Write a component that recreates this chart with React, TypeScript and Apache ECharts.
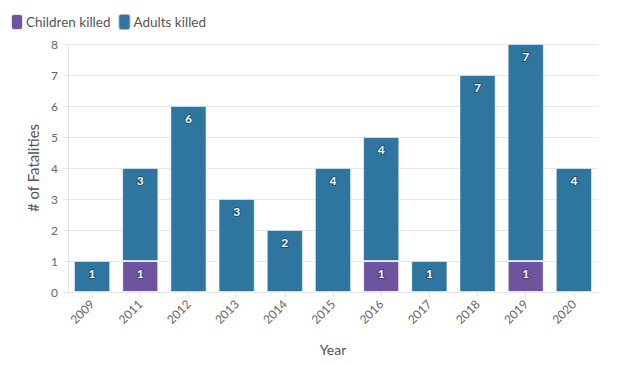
import React, { useEffect, useRef } from "react";
import * as echarts from "echarts";

const years = ["2009", "2011", "2012", "2013", "2014", "2015", "2016", "2017", "2018", "2019", "2020"];
const childrenKilled = [0, 1, 0, 0, 0, 0, 1, 0, 0, 1, 0];
const adultsKilled = [1, 3, 6, 3, 2, 4, 4, 1, 7, 7, 4];
const yTicks = { min: 0, max: 8, interval: 1 };

const FONT = "Lato, 'Open Sans', sans-serif";

export default function App() {
  const ref = useRef<HTMLDivElement>(null);
  useEffect(() => {
    if (!ref.current) return;
    const chart = echarts.init(ref.current, null, { renderer: "svg" });
    const label = {
      show: true,
      position: "insideTop",
      distance: 6,
      color: "#fff",
      fontWeight: "bold",
      fontSize: 12,
      fontFamily: FONT,
      textBorderColor: "rgba(20,50,80,0.55)",
      textBorderWidth: 2,
      formatter: (p: any) => (p.value > 0 ? String(p.value) : ""),
    };
    chart.setOption({
      animation: false,
      textStyle: { fontFamily: FONT },
      legend: {
        left: 5,
        top: 8,
        itemWidth: 12,
        itemHeight: 16,
        itemGap: 7,
        icon: "roundRect",
        textStyle: { color: "#555", fontSize: 13.5, fontFamily: FONT, padding: [0, 0, 0, -2] },
        data: ["Children killed", "Adults killed"],
      },
      grid: { left: 68, right: 26, top: 44, bottom: 73, containLabel: false },
      xAxis: {
        type: "category",
        data: years,
        name: "Year",
        nameLocation: "middle",
        nameGap: 50,
        nameTextStyle: { color: "#555", fontSize: 14, fontFamily: FONT },
        axisLine: { lineStyle: { color: "#e6e6e6" } },
        axisTick: { show: true, alignWithLabel: true, lineStyle: { color: "#e6e6e6" } },
        axisLabel: { rotate: 45, color: "#666", fontSize: 12, margin: 10 },
      },
      yAxis: {
        type: "value",
        min: yTicks.min,
        max: yTicks.max,
        interval: yTicks.interval,
        name: "# of Fatalities",
        nameLocation: "middle",
        nameGap: 27,
        nameTextStyle: { color: "#555", fontSize: 15, fontFamily: FONT },
        axisLine: { show: true, lineStyle: { color: "#e6e6e6" } },
        axisTick: { show: true, length: 5, lineStyle: { color: "#e6e6e6" } },
        splitLine: { lineStyle: { color: "#e8e8e8" } },
        axisLabel: { color: "#666", fontSize: 12, margin: 10 },
      },
      series: [
        {
          name: "Children killed",
          type: "bar",
          stack: "total",
          data: childrenKilled,
          barWidth: "75%",
          itemStyle: { color: "#6e539e", borderColor: "rgba(255,255,255,0.8)", borderWidth: 1 },
          label,
        },
        {
          name: "Adults killed",
          type: "bar",
          stack: "total",
          data: adultsKilled,
          barWidth: "75%",
          itemStyle: { color: "#2e75a0", borderColor: "rgba(255,255,255,0.5)", borderWidth: 1 },
          label,
        },
      ],
    });
    return () => chart.dispose();
  }, []);
  return <div ref={ref} style={{ position: "absolute", left: 0, top: 0, width: 624, height: 365 }} />;
}
